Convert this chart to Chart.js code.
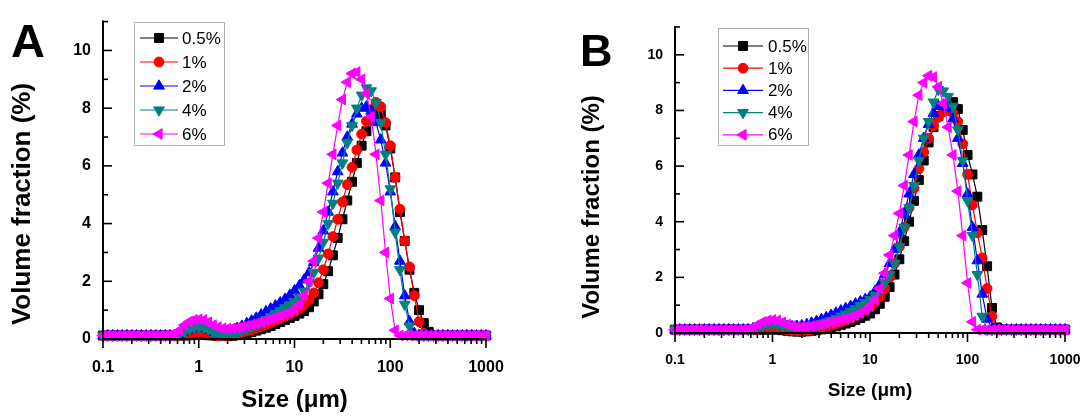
<!DOCTYPE html>
<html><head><meta charset="utf-8">
<script src="https://cdn.jsdelivr.net/npm/chart.js@4.4.1/dist/chart.umd.min.js"></script>
<style>
html,body{margin:0;padding:0;background:#fff;}
#wrap{position:relative;width:1083px;height:416px;overflow:hidden;background:#fff;}
.panel{position:absolute;top:0;}
.tag{position:absolute;font-family:'Liberation Sans',Arial,sans-serif;font-weight:bold;line-height:1;color:#000;}
</style></head><body>
<div id="wrap">
 <div class="panel" style="left:0;width:541px;height:416px"><canvas id="cA" width="541" height="416"></canvas></div>
 <div class="panel" style="left:541px;width:560px;height:416px"><canvas id="cB" width="560" height="416"></canvas></div>
 <div class="tag" style="left:11px;top:17px;font-size:47px">A</div>
 <div class="tag" style="left:580px;top:28px;font-size:45px">B</div>
</div>
<script>
// ---------- data ----------
const SIZES = [0.1,0.112,0.126,0.142,0.159,0.178,0.2,0.224,0.252,0.283,
 0.317,0.356,0.399,0.448,0.502,0.564,0.632,0.71,0.796,0.893,
 1.002,1.125,1.262,1.416,1.589,1.783,2.0,2.244,2.518,2.825,
 3.17,3.557,3.991,4.477,5.024,5.637,6.325,7.096,7.962,8.934,
 10.02,11.25,12.62,14.16,15.89,17.83,20.0,22.44,25.18,28.25,
 31.7,35.57,39.91,44.77,50.24,56.37,63.25,70.96,79.62,89.34,
 100.2,112.5,126.2,141.6,158.9,178.3,200.0,224.4,251.8,282.5,
 317.0,355.7,399.1,447.7,502.4,563.7,632.5,709.6,796.2,893.4,
 1000];
const LABELS = ['0.5%','1%','2%','4%','6%'];
const X_TICK_LABELS = ['0.1','1','10','100','1000'];
const Y_TICK_LABELS = [0,2,4,6,8,10];

const A_05 = [0.12,0.12,0.12,0.12,0.12,0.12,0.12,0.12,0.12,0.12,
 0.12,0.12,0.12,0.12,0.12,0.12,0.12,0.12,0.13,0.15,
 0.16,0.15,0.13,0.12,0.11,0.1,0.1,0.11,0.13,0.16,
 0.2,0.24,0.29,0.34,0.39,0.45,0.52,0.59,0.66,0.73,
 0.8,0.88,0.97,1.1,1.3,1.55,1.9,2.35,2.9,3.5,
 4.15,4.8,5.45,6.1,6.7,7.2,7.6,7.85,7.8,7.4,
 6.6,5.6,4.4,3.4,2.4,1.6,1.0,0.55,0.25,0.12,
 0.12,0.12,0.12,0.12,0.12,0.12,0.12,0.12,0.12,0.12,
 0.12];
const A_1 = [0.12,0.12,0.12,0.12,0.12,0.12,0.12,0.12,0.12,0.12,
 0.12,0.12,0.12,0.12,0.12,0.12,0.13,0.16,0.2,0.23,
 0.25,0.23,0.18,0.13,0.11,0.11,0.12,0.14,0.18,0.22,
 0.27,0.32,0.38,0.44,0.5,0.57,0.64,0.71,0.79,0.87,
 0.95,1.05,1.18,1.35,1.6,1.95,2.4,2.95,3.55,4.15,
 4.75,5.35,5.95,6.55,7.1,7.55,7.95,8.2,8.05,7.5,
 6.7,5.6,4.5,3.4,2.5,1.5,0.6,0.2,0.12,0.12,
 0.12,0.12,0.12,0.12,0.12,0.12,0.12,0.12,0.12,0.12,
 0.12];
const A_2 = [0.12,0.12,0.12,0.12,0.12,0.12,0.12,0.12,0.12,0.12,
 0.12,0.12,0.12,0.12,0.12,0.13,0.16,0.24,0.32,0.37,
 0.38,0.36,0.3,0.23,0.19,0.2,0.24,0.3,0.37,0.45,
 0.54,0.63,0.73,0.84,0.95,1.05,1.15,1.26,1.38,1.52,
 1.68,1.85,2.05,2.3,2.65,3.15,3.75,4.4,5.1,5.8,
 6.45,7.0,7.45,7.8,8.0,8.05,7.9,7.5,6.9,6.1,
 5.1,3.9,2.7,1.5,0.6,0.2,0.12,0.12,0.12,0.12,
 0.12,0.12,0.12,0.12,0.12,0.12,0.12,0.12,0.12,0.12,
 0.12];
const A_4 = [0.12,0.12,0.12,0.12,0.12,0.12,0.12,0.12,0.12,0.12,
 0.12,0.12,0.12,0.12,0.12,0.13,0.17,0.26,0.34,0.4,
 0.42,0.4,0.33,0.24,0.17,0.15,0.16,0.19,0.23,0.28,
 0.34,0.41,0.49,0.58,0.67,0.77,0.87,0.98,1.08,1.18,
 1.3,1.45,1.65,1.95,2.3,2.8,3.35,4.0,4.7,5.4,
 6.1,6.8,7.4,8.0,8.45,8.7,8.6,8.2,7.5,6.4,
 5.2,3.7,2.4,1.2,0.45,0.15,0.12,0.12,0.12,0.12,
 0.12,0.12,0.12,0.12,0.12,0.12,0.12,0.12,0.12,0.12,
 0.12];
const A_6 = [0.12,0.12,0.12,0.12,0.12,0.12,0.12,0.12,0.12,0.12,
 0.12,0.12,0.12,0.13,0.13,0.15,0.3,0.48,0.6,0.66,
 0.68,0.66,0.58,0.48,0.41,0.37,0.36,0.37,0.39,0.42,
 0.46,0.5,0.54,0.59,0.64,0.69,0.74,0.8,0.86,0.93,
 1.02,1.2,1.5,2.0,2.7,3.5,4.4,5.4,6.4,7.4,
 8.3,8.9,9.2,9.25,9.0,8.5,7.7,6.4,4.8,3.0,
 1.4,0.3,0.12,0.12,0.12,0.12,0.12,0.12,0.12,0.12,
 0.12,0.12,0.12,0.12,0.12,0.12,0.12,0.12,0.12,0.12,
 0.12];

const B_05 = [0.12,0.12,0.12,0.12,0.12,0.12,0.12,0.12,0.12,0.12,
 0.12,0.12,0.12,0.12,0.12,0.12,0.12,0.12,0.12,0.12,
 0.13,0.12,0.1,0.08,0.06,0.05,0.05,0.06,0.08,0.1,
 0.13,0.16,0.2,0.24,0.29,0.34,0.4,0.47,0.54,0.62,
 0.7,0.85,1.05,1.3,1.65,2.1,2.65,3.3,4.0,4.75,
 5.5,6.2,6.85,7.4,7.8,8.1,8.2,8.3,8.05,7.3,
 6.4,5.7,4.9,3.7,2.4,0.9,0.2,0.12,0.12,0.12,
 0.12,0.12,0.12,0.12,0.12,0.12,0.12,0.12,0.12,0.12,
 0.12];
const B_1 = [0.12,0.12,0.12,0.12,0.12,0.12,0.12,0.12,0.12,0.12,
 0.12,0.12,0.12,0.12,0.12,0.12,0.12,0.13,0.15,0.17,
 0.18,0.17,0.14,0.11,0.09,0.08,0.08,0.1,0.12,0.15,
 0.19,0.23,0.28,0.34,0.4,0.47,0.55,0.64,0.73,0.84,
 0.95,1.1,1.3,1.6,2.0,2.5,3.1,3.8,4.5,5.2,
 5.9,6.5,7.0,7.45,7.75,7.95,8.0,7.9,7.6,6.8,
 5.7,4.6,3.6,2.7,1.6,0.6,0.15,0.12,0.12,0.12,
 0.12,0.12,0.12,0.12,0.12,0.12,0.12,0.12,0.12,0.12,
 0.12];
const B_2 = [0.12,0.12,0.12,0.12,0.12,0.12,0.12,0.12,0.12,0.12,
 0.12,0.12,0.12,0.12,0.12,0.13,0.16,0.22,0.3,0.35,
 0.37,0.35,0.3,0.25,0.23,0.24,0.27,0.31,0.36,0.42,
 0.49,0.56,0.64,0.72,0.8,0.88,0.96,1.05,1.13,1.21,
 1.3,1.5,1.75,2.1,2.5,3.0,3.6,4.3,5.0,5.7,
 6.4,7.0,7.5,7.9,8.15,8.2,8.1,7.7,7.0,6.1,
 5.0,3.8,2.6,1.4,0.5,0.15,0.12,0.12,0.12,0.12,
 0.12,0.12,0.12,0.12,0.12,0.12,0.12,0.12,0.12,0.12,
 0.12];
const B_4 = [0.12,0.12,0.12,0.12,0.12,0.12,0.12,0.12,0.12,0.12,
 0.12,0.12,0.12,0.12,0.12,0.12,0.14,0.2,0.27,0.3,
 0.32,0.3,0.25,0.2,0.17,0.17,0.18,0.2,0.24,0.28,
 0.33,0.39,0.45,0.52,0.6,0.68,0.77,0.87,0.98,1.09,
 1.2,1.35,1.55,1.8,2.1,2.5,3.1,3.8,4.5,5.3,
 6.2,7.0,7.6,8.3,8.75,8.7,8.5,8.15,7.3,6.2,
 4.75,3.5,2.1,0.6,0.12,0.12,0.12,0.12,0.12,0.12,
 0.12,0.12,0.12,0.12,0.12,0.12,0.12,0.12,0.12,0.12,
 0.12];
const B_6 = [0.12,0.12,0.12,0.12,0.12,0.12,0.12,0.12,0.12,0.12,
 0.12,0.12,0.12,0.12,0.12,0.13,0.2,0.3,0.4,0.45,
 0.47,0.45,0.38,0.3,0.25,0.22,0.22,0.23,0.25,0.28,
 0.31,0.35,0.39,0.43,0.47,0.52,0.57,0.63,0.72,0.83,
 0.97,1.2,1.6,2.15,2.8,3.5,4.3,5.3,6.4,7.6,
 8.55,9.0,9.25,9.2,8.85,8.25,7.4,6.4,5.1,3.5,
 1.8,0.4,0.12,0.12,0.12,0.12,0.12,0.12,0.12,0.12,
 0.12,0.12,0.12,0.12,0.12,0.12,0.12,0.12,0.12,0.12,
 0.12];

// ---------- styling ----------
const STYLES = [
 {color:'#000000', pointStyle:'rect',     rotation:0,   radius:6.3},
 {color:'#ff0000', pointStyle:'circle',   rotation:0,   radius:4.9},
 {color:'#0000ff', pointStyle:'triangle', rotation:0,   radius:6.2},
 {color:'#008080', pointStyle:'triangle', rotation:180, radius:6.2},
 {color:'#ff00ff', pointStyle:'triangle', rotation:-90, radius:6.2}
];
const FONT = "'Liberation Sans', Arial, sans-serif";
Chart.defaults.font.family = FONT;
Chart.defaults.color = '#000';

function makeDatasets(seriesList) {
  return seriesList.map((vals, i) => {
    const s = STYLES[i];
    return {
      label: LABELS[i],
      data: SIZES.map((x, k) => ({x: x, y: vals[k]})),
      borderColor: s.color, backgroundColor: s.color,
      pointBorderColor: s.color, pointBackgroundColor: s.color,
      borderWidth: 1.2, pointBorderWidth: 1,
      pointStyle: s.pointStyle, pointRotation: s.rotation, pointRadius: s.radius,
      pointHoverRadius: s.radius, tension: 0, fill: false,
      order: seriesList.length - 1 - i, clip: false
    };
  });
}

// ---------- plugins ----------
const originAxes = {
  id: 'originAxes',
  afterDatasetsDraw(chart, args, o) {
    const ctx = chart.ctx, xs = chart.scales.x, ys = chart.scales.y;
    const X = v => xs.getPixelForValue(v), Y = v => ys.getPixelForValue(v);
    ctx.save();
    ctx.strokeStyle = '#000';
    const x0 = X(xs.min), y0 = Y(0);
    ctx.lineWidth = o.axisWidth; ctx.lineJoin = 'miter'; ctx.lineCap = 'square';
    ctx.beginPath(); ctx.moveTo(x0, Y(ys.max)); ctx.lineTo(x0, y0); ctx.lineTo(X(xs.max), y0); ctx.stroke();
    ctx.lineCap = 'butt';
    ctx.lineWidth = o.tickWidth;
    for (let v = 0; v <= ys.max; v++) {
      const len = (v % 2 === 0) ? o.major : o.minor;
      ctx.beginPath(); ctx.moveTo(x0, Y(v)); ctx.lineTo(x0 + len, Y(v)); ctx.stroke();
    }
    const e0 = Math.round(Math.log10(xs.min)), e1 = Math.round(Math.log10(xs.max));
    for (let e = e0; e <= e1; e++) {
      for (let m = 1; m <= 9; m++) {
        const v = m * Math.pow(10, e);
        if (v > xs.max * 1.0001) break;
        const len = m === 1 ? o.major : o.minor;
        ctx.beginPath(); ctx.moveTo(X(v), y0); ctx.lineTo(X(v), y0 + len); ctx.stroke();
      }
    }
    // y-axis title (text comes from the scale options)
    const t = ys.options.title;
    ctx.fillStyle = '#000';
    ctx.font = 'bold ' + o.yTitleSize + 'px ' + FONT;
    ctx.textAlign = 'center'; ctx.textBaseline = 'middle';
    ctx.translate(o.yTitleX, o.yTitleY); ctx.rotate(-Math.PI / 2);
    ctx.fillText(t.text, 0, 0);
    ctx.restore();
  }
};

const originLegend = {
  id: 'originLegend',
  afterDraw(chart, args, o) {
    const ctx = chart.ctx;
    ctx.save();
    ctx.fillStyle = '#fff'; ctx.strokeStyle = '#b0b0b0'; ctx.lineWidth = 1;
    ctx.fillRect(o.x, o.y, o.w, o.h);
    ctx.strokeRect(o.x + 0.5, o.y + 0.5, o.w, o.h);
    chart.data.datasets.forEach((ds, i) => {
      const yy = o.row0 + i * o.step;
      ctx.strokeStyle = ds.borderColor; ctx.lineWidth = 1.2;
      ctx.beginPath(); ctx.moveTo(o.l1, yy); ctx.lineTo(o.l2, yy); ctx.stroke();
      ctx.fillStyle = ds.pointBackgroundColor; ctx.strokeStyle = ds.pointBorderColor;
      ctx.lineWidth = 1;
      Chart.helpers.drawPoint(ctx, {pointStyle: ds.pointStyle, rotation: ds.pointRotation,
        radius: ds.pointRadius, borderWidth: 1}, (o.l1 + o.l2) / 2, yy);
      ctx.fillStyle = '#000';
      ctx.font = o.fontSize + 'px ' + FONT;
      ctx.textAlign = 'left'; ctx.textBaseline = 'middle';
      ctx.fillText(ds.label, o.tx, yy + 1);
    });
    ctx.restore();
  }
};

function decadeLabel(v) {
  const l = Math.log10(v);
  if (Math.abs(l - Math.round(l)) > 1e-6) return '';
  const idx = Math.round(l) + 1;
  return X_TICK_LABELS[idx] !== undefined ? X_TICK_LABELS[idx] : '';
}

function makeChart(id, series, g) {
  return new Chart(document.getElementById(id), {
    type: 'line',
    data: { datasets: makeDatasets(series) },
    options: {
      responsive: false, animation: false, events: [],
      layout: { padding: { top: g.top, right: g.right, left: 0, bottom: 0 } },
      plugins: {
        legend: { display: false }, tooltip: { enabled: false },
        originAxes: { axisWidth: 2, tickWidth: 1.6, major: 9, minor: 5,
          yTitleX: g.yTitleX, yTitleY: g.yTitleY, yTitleSize: g.yTitleSize },
        originLegend: g.legend
      },
      scales: {
        x: {
          type: 'logarithmic', min: 0.1, max: 1000,
          afterFit: s => { s.height = g.xh; },
          grid: { display: false, drawTicks: false }, border: { display: false },
          ticks: { autoSkip: false, maxRotation: 0, padding: g.xPad,
            font: { size: g.tick, weight: 'bold' }, color: '#000', callback: decadeLabel },
          title: { display: true, text: 'Size (μm)', color: '#000',
            font: { size: g.xTitleSize, weight: 'bold' }, padding: { top: 0, bottom: g.xTitlePad } }
        },
        y: {
          type: 'linear', min: 0, max: 11,
          afterFit: s => { s.width = g.yw; },
          grid: { display: false, drawTicks: false }, border: { display: false },
          ticks: { stepSize: 1, autoSkip: false, padding: 12,
            font: { size: g.tick, weight: 'bold' }, color: '#000',
            callback: v => Y_TICK_LABELS.includes(v) ? String(v) : '' },
          title: { display: false, text: 'Volume fraction (%)' }
        }
      }
    },
    plugins: [originAxes, originLegend]
  });
}

makeChart('cA', [A_05, A_1, A_2, A_4, A_6], {
  top: 13, right: 55, yw: 103, xh: 77, tick: 16, xPad: 19,
  xTitleSize: 24, xTitlePad: 1, yTitleX: 23, yTitleY: 204, yTitleSize: 26,
  legend: { x: 134, y: 22, w: 90, h: 123, row0: 38, step: 24, l1: 140, l2: 178, tx: 182, fontSize: 17 }
});
makeChart('cB', [B_05, B_1, B_2, B_4, B_6], {
  top: 27, right: 36, yw: 134, xh: 83, tick: 14, xPad: 18.5,
  xTitleSize: 19, xTitlePad: 14, yTitleX: 51, yTitleY: 207, yTitleSize: 24,
  legend: { x: 177, y: 28, w: 90, h: 117, row0: 46, step: 22.2, l1: 182, l2: 222, tx: 227, fontSize: 17 }
});
</script>
</body></html>
